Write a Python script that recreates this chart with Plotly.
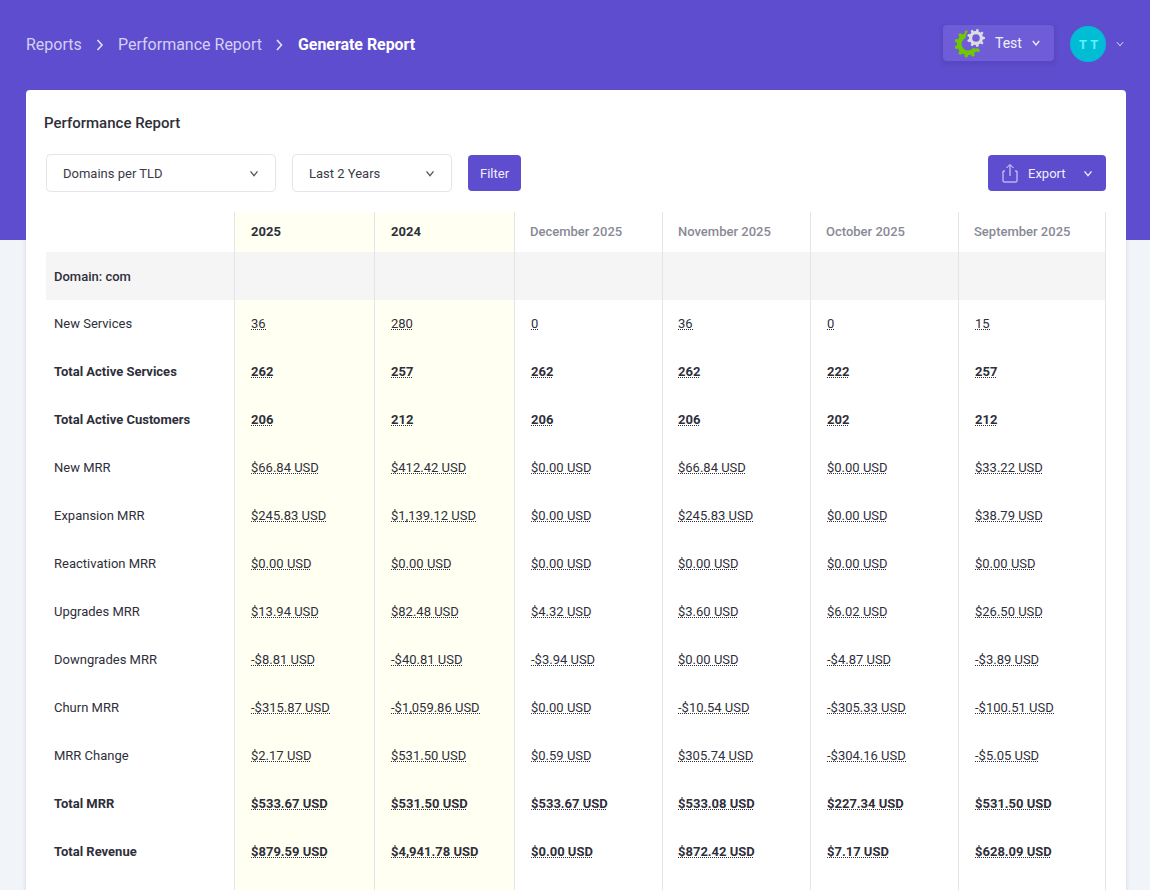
import numpy as np
import plotly.graph_objects as go

# table content
column_titles = ["2025", "2024", "December 2025", "November 2025", "October 2025", "September 2025"]
row_labels = ["New Services", "Total Active Services", "Total Active Customers", "New MRR", "Expansion MRR",
              "Reactivation MRR", "Upgrades MRR", "Downgrades MRR", "Churn MRR", "MRR Change", "Total MRR",
              "Total Revenue"]
bold_rows = ["Total Active Services", "Total Active Customers", "Total MRR", "Total Revenue"]

col_2025 = ["36", "262", "206", "$66.84 USD", "$245.83 USD", "$0.00 USD", "$13.94 USD", "-$8.81 USD",
            "-$315.87 USD", "$2.17 USD", "$533.67 USD", "$879.59 USD"]
col_2024 = ["280", "257", "212", "$412.42 USD", "$1,139.12 USD", "$0.00 USD", "$82.48 USD", "-$40.81 USD",
            "-$1,059.86 USD", "$531.50 USD", "$531.50 USD", "$4,941.78 USD"]
col_dec = ["0", "262", "206", "$0.00 USD", "$0.00 USD", "$0.00 USD", "$4.32 USD", "-$3.94 USD",
           "$0.00 USD", "$0.59 USD", "$533.67 USD", "$0.00 USD"]
col_nov = ["36", "262", "206", "$66.84 USD", "$245.83 USD", "$0.00 USD", "$3.60 USD", "$0.00 USD",
           "-$10.54 USD", "$305.74 USD", "$533.08 USD", "$872.42 USD"]
col_oct = ["0", "222", "202", "$0.00 USD", "$0.00 USD", "$0.00 USD", "$6.02 USD", "-$4.87 USD",
           "-$305.33 USD", "-$304.16 USD", "$227.34 USD", "$7.17 USD"]
col_sep = ["15", "257", "212", "$33.22 USD", "$38.79 USD", "$0.00 USD", "$26.50 USD", "-$3.89 USD",
           "-$100.51 USD", "-$5.05 USD", "$531.50 USD", "$628.09 USD"]
columns = [col_2025, col_2024, col_dec, col_nov, col_oct, col_sep]

# page layout, in screen pixels
PURPLE = "#5e4dce"
PAGE_BG = "#f1f4f9"
LINE = "#e2e5ea"
DARK = "#2f2f3b"
GRAY = "#898a96"
FONT = "Roboto"
col_edges = [234.5, 374.5, 514.5, 662.5, 810.5, 958.5, 1105.5]
col_text_x = [251, 391, 531, 678, 827, 975]
row_y_start = 324
row_step = 48

# Roboto advance widths (em) for the dotted underlines
REGULAR_W = {".": .263, ",": .196, "-": .276, " ": .2475, "U": .648, "S": .593, "D": .656}
BOLD_W = {".": .27, ",": .2, "-": .28, " ": .249, "U": .65, "S": .6, "D": .66}


def text_width(text, bold, size=13):
    table = BOLD_W if bold else REGULAR_W
    digit = .5727 if bold else .5615
    return sum(table.get(c, digit) for c in text) * size


shapes = []
annotations = []


def rect(x0, y0, x1, y1, fill, line=None, radius=0):
    if radius == 0:
        shapes.append(dict(type="rect", x0=x0, y0=y0, x1=x1, y1=y1, xref="x", yref="y", layer="below",
                           fillcolor=fill, line=dict(color=line or fill, width=1 if line else 0)))
        return
    r = radius
    path = (f"M{x0+r},{y0} L{x1-r},{y0} Q{x1},{y0} {x1},{y0+r} L{x1},{y1-r} Q{x1},{y1} {x1-r},{y1} "
            f"L{x0+r},{y1} Q{x0},{y1} {x0},{y1-r} L{x0},{y0+r} Q{x0},{y0} {x0+r},{y0} Z")
    shapes.append(dict(type="path", path=path, xref="x", yref="y", fillcolor=fill, layer="below",
                       line=dict(color=line or fill, width=1 if line else 0)))


def label(x, y, text, size=13, color=DARK, weight=400):
    annotations.append(dict(x=x, y=y, xref="x", yref="y", text=text, showarrow=False, xanchor="left",
                            yanchor="middle", borderpad=0, xshift=-1,
                            font=dict(family=FONT, size=size, color=color, weight=weight)))


def stroke(path, color, width=1.0):
    shapes.append(dict(type="path", path=path, xref="x", yref="y", layer="below",
                       line=dict(color=color, width=width)))


def chevron(x, y, color, w=4, h=2.5, width=1.3):
    stroke(f"M{x-w},{y-h} L{x},{y+h} L{x+w},{y-h}", color, width)


def circle(cx, cy, r, fill):
    shapes.append(dict(type="circle", x0=cx - r, x1=cx + r, y0=cy - r, y1=cy + r, xref="x", yref="y",
                       layer="below", fillcolor=fill, line=dict(width=0)))


def gear(cx, cy, outer, inner, teeth, fill):
    pts = []
    for i in range(teeth):
        a = 2 * np.pi * i / teeth
        s = 2 * np.pi / teeth
        for da, r in [(-.3, inner), (-.17, outer), (.17, outer), (.3, inner)]:
            pts.append((cx + r * np.cos(a + da * s), cy + r * np.sin(a + da * s)))
    path = "M" + " L".join(f"{x:.2f},{y:.2f}" for x, y in pts) + " Z"
    shapes.append(dict(type="path", path=path, xref="x", yref="y", fillcolor=fill, layer="below",
                       line=dict(width=0)))


# background and card
rect(0, 0, 1150, 240, PURPLE)
rect(0, 240, 1150, 890, PAGE_BG)
for grow, alpha in [(4, .012), (3, .015), (2, .02), (1, .025)]:
    rect(26 - grow, 240, 1126 + grow, 890, f"rgba(60,60,110,{alpha})")
rect(26, 90, 1126, 910, "white", radius=4)

# breadcrumb
label(26, 44.5, "Reports", 16, "#d5d0f4")
stroke("M97.5,40 L102,45 L97.5,50", "#e4e1f8", 1.6)
label(118, 44.5, "Performance Report", 16, "#d5d0f4")
stroke("M277,40 L281.5,45 L277,50", "#e4e1f8", 1.6)
label(298, 44.5, "Generate Report", 15.9, "white", 700)

# account controls
for grow, alpha in [(5, .02), (3, .03), (1, .04)]:
    rect(943 - grow, 25 - grow + 2, 1054 + grow, 61 + grow + 2, f"rgba(40,30,120,{alpha})", radius=6)
rect(943, 25, 1054, 61, "#6f5dd8", radius=4)
gear(968, 44, 13.5, 11, 11, "#6fc800")
circle(968, 44, 6.5, "#6f5dd8")
circle(976, 38, 10.5, "#6f5dd8")
gear(976, 38, 9, 7, 9, "#dcdce2")
circle(976, 38, 3.8, "#6f5dd8")
label(995, 42.5, "Test", 14, "#f1effc")
chevron(1036, 43, "#f1effc", w=3.2, h=2)
circle(1088, 44, 18, "#00bcd4")
label(1078.5, 44.5, "T\u00a0T", 13, "#5cf3fb", 700)
chevron(1120, 44, "#e4e1f8", w=3, h=1.8, width=1)

# card heading and controls
label(44, 123, "Performance Report", 15, DARK, 500)
rect(46.5, 154.5, 275.5, 191.5, "white", line=LINE, radius=4)
label(63, 173.5, "Domains per TLD", 13, "#3a3a46")
chevron(254, 173.5, "#555560", w=3.5, h=2.2)
rect(292.5, 154.5, 451.5, 191.5, "white", line=LINE, radius=4)
label(309, 173.5, "Last 2 Years", 13, "#3a3a46")
chevron(430, 173.5, "#555560", w=3.5, h=2.2)
rect(468, 155, 521, 191, PURPLE, radius=4)
label(480, 173.5, "Filter", 13, "#f1effc")
rect(988, 155, 1106, 191, PURPLE, radius=4)
stroke("M1005,171 L1003,171 L1003,181 Q1003,182 1004,182 L1016,182 Q1017,182 1017,181 "
       "L1017,171 L1015,171 M1010,176 L1010,165 M1006.5,168 L1010,164.5 L1013.5,168", "#e6e3f9")
label(1028, 173.5, "Export", 13, "#f1effc")
chevron(1088, 173.5, "#f1effc", w=3.5, h=2.2)

# table backgrounds and rules
rect(col_edges[0], 212, col_edges[2], 890, "#fffff2")
rect(46, 252, col_edges[-1], 300, "#f5f5f5")
for x in col_edges:
    shapes.append(dict(type="line", x0=x, x1=x, y0=212, y1=890, xref="x", yref="y", layer="below",
                       line=dict(color=LINE, width=1)))

fig = go.Figure()

# row labels
row_y = [row_y_start + i * row_step for i in range(len(row_labels))]
text_y = [y + 1 for y in row_y]
fig.add_trace(go.Scatter(x=[54] * len(row_labels), y=text_y, mode="text", textposition="middle right",
                         text=[f"<b>{r}</b>" if r in bold_rows else r for r in row_labels],
                         textfont=dict(family=FONT, size=13, color=DARK), hoverinfo="skip"))

# value columns and their dotted underlines
under_x, under_y = [], []
for values, x in zip(columns, col_text_x):
    shown = []
    for value, y, name in zip(values, row_y, row_labels):
        bold = name in bold_rows
        shown.append(f"<b>{value}</b>" if bold else value)
        under_x += [x, x + round(text_width(value, bold)), None]
        under_y += [y + 5.5, y + 5.5, None]
    fig.add_trace(go.Scatter(x=[x] * len(values), y=text_y, mode="text", textposition="middle right", text=shown,
                             textfont=dict(family=FONT, size=13, color=DARK), hoverinfo="skip"))
fig.add_trace(go.Scatter(x=under_x, y=under_y, mode="lines", line=dict(color="#33333f", width=1, dash="1px,1px"),
                         hoverinfo="skip"))

# column heads
for i, (title, x) in enumerate(zip(column_titles, col_text_x)):
    if i < 2:
        label(x - .5, 231, title, 13, DARK, 700)
    else:
        label(x - 1 if i != 3 else x, 231, title, 13, GRAY, 500)
label(54, 276.5, "Domain: com", 13, DARK, 500)

fig.update_layout(
    width=1150,
    height=890,
    margin=dict(l=0, r=0, t=0, b=0),
    showlegend=False,
    paper_bgcolor=PAGE_BG,
    plot_bgcolor=PAGE_BG,
    shapes=shapes,
    annotations=annotations,
    xaxis=dict(range=[0, 1150], visible=False, fixedrange=True),
    yaxis=dict(range=[890, 0], visible=False, fixedrange=True),
)
fig.write_html("out.html", config={"displayModeBar": False},
               post_script="document.body.style.margin='0';document.body.style.overflow='hidden';")
